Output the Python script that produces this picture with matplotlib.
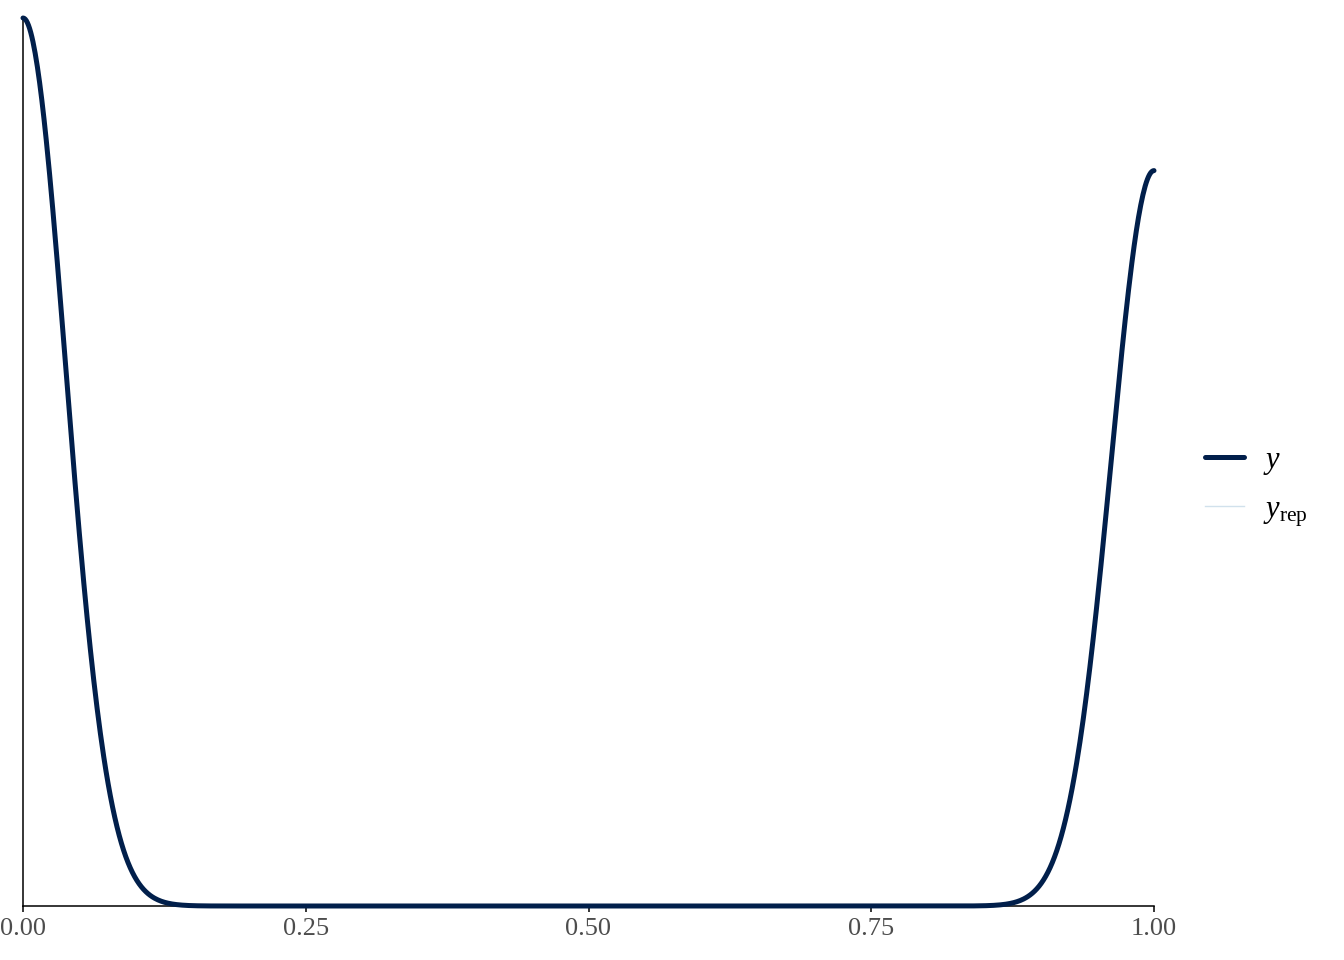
import matplotlib
matplotlib.use("Agg")
import matplotlib.pyplot as plt
import numpy as np
from matplotlib.lines import Line2D

# observed binary outcome, summarised as counts of each value
y_values = [0, 1]
y_counts = [547, 453]
bandwidth = 0.0378  # kernel bandwidth of the density estimate

x_ticks = [0.00, 0.25, 0.50, 0.75, 1.00]
x_ticklabels = ["0.00", "0.25", "0.50", "0.75", "1.00"]

plt.rcParams['font.family'] = ['Liberation Serif', 'DejaVu Serif']
plt.rcParams['mathtext.fontset'] = 'custom'
plt.rcParams['mathtext.rm'] = 'Liberation Serif'
plt.rcParams['mathtext.it'] = 'Liberation Serif:italic'

dark = "#011f4b"
light = "#d1e1ec"

# gaussian kernel density over the observed range
grid = np.linspace(min(y_values), max(y_values), 1024)
vals = np.array(y_values, dtype=float)
w = np.array(y_counts, dtype=float) / np.sum(y_counts)
dens = np.zeros_like(grid)
for v, wi in zip(vals, w):
    dens += wi * np.exp(-0.5 * ((grid - v) / bandwidth) ** 2) / (bandwidth * np.sqrt(2 * np.pi))

fig = plt.figure(figsize=(13.44, 9.6), dpi=100)
ax = fig.add_axes([23 / 1344, 54 / 960, 1131 / 1344, 888 / 960])

ax.plot(grid, dens, color=dark, lw=3.6, solid_capstyle='round', clip_on=False, zorder=3)

ax.set_xlim(0, 1)
ax.set_ylim(0, dens.max())
ax.set_xticks(x_ticks)
ax.set_xticklabels(x_ticklabels)
ax.set_yticks([])
for s in ['top', 'right']:
    ax.spines[s].set_visible(False)
for s in ['left', 'bottom']:
    ax.spines[s].set_linewidth(1.1)
    ax.spines[s].set_color('black')
ax.tick_params(axis='x', length=4.5, width=1.1, color='black', labelsize=19,
               labelcolor='#4d4d4d', pad=4)

handles = [Line2D([], [], color=dark, lw=3.6, solid_capstyle='round'),
           Line2D([], [], color=light, lw=1)]
fig.legend(handles, [r'$y$', r'$y_{\rm rep}$'], loc='center left',
           bbox_to_anchor=(1177 / 1344, 0.4925), frameon=False, fontsize=22,
           handlelength=1.3, handletextpad=0.6, labelspacing=0.6)

fig.savefig("out.png", dpi=100)
